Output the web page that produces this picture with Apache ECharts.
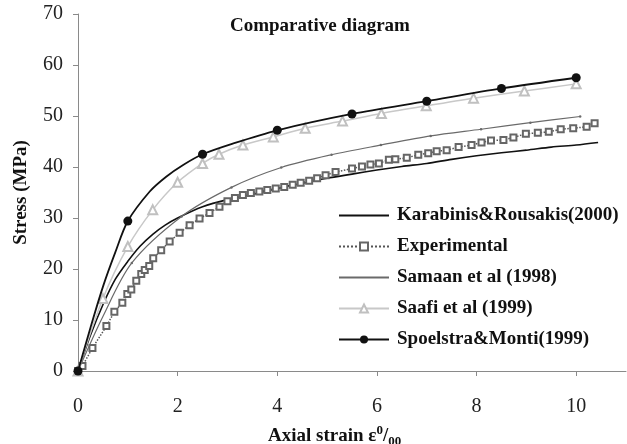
<!DOCTYPE html>
<html>
<head>
<meta charset="utf-8">
<script src="https://cdn.jsdelivr.net/npm/echarts@6/dist/echarts.min.js"></script>
<style>
  html, body { margin: 0; padding: 0; background: #fff; }
  #chart { width: 627px; height: 444px; }
</style>
</head>
<body>
<div id="chart"></div>
<script>
// 轴刻度
var xTicks = [0, 2, 4, 6, 8, 10]
var yTicks = [0, 10, 20, 30, 40, 50, 60, 70]

// Karabinis & Rousakis (2000) - plain line
var karaX = [0, 0.25, 0.5, 0.75, 1, 1.25, 1.5, 1.75, 2, 2.5, 3, 3.5, 4, 4.5, 5, 5.5, 6, 6.5, 7, 7.5, 8, 8.5, 9, 9.5, 10, 10.44]
var karaY = [0, 7, 13, 18, 21.5, 24.5, 26.8, 28.6, 30, 32.2, 33.6, 34.6, 35.8, 36.8, 37.8, 38.6, 39.4, 40.1, 40.7, 41.5, 42.2, 42.8, 43.3, 43.9, 44.3, 44.8]

// Experimental - dotted line, hollow squares
var expX = [0, 0.09, 0.29, 0.57, 0.73, 0.89, 0.99, 1.07, 1.17, 1.27, 1.34, 1.43, 1.51, 1.67, 1.84, 2.04, 2.24, 2.44, 2.64, 2.84, 3.0, 3.15, 3.31, 3.47, 3.64, 3.8, 3.97, 4.14, 4.31, 4.47, 4.64, 4.8, 4.97, 5.17, 5.5, 5.7, 5.87, 6.04, 6.24, 6.37, 6.6, 6.83, 7.03, 7.2, 7.4, 7.64, 7.9, 8.1, 8.29, 8.54, 8.74, 8.99, 9.23, 9.45, 9.69, 9.94, 10.21, 10.37]
var expY = [0, 1, 4.5, 8.8, 11.6, 13.4, 15.1, 16, 17.7, 19, 19.8, 20.6, 22.1, 23.7, 25.4, 27.1, 28.6, 29.9, 31, 32.2, 33.3, 33.9, 34.5, 34.9, 35.2, 35.5, 35.8, 36.1, 36.5, 36.9, 37.3, 37.8, 38.4, 39, 39.7, 40.1, 40.5, 40.7, 41.4, 41.5, 41.8, 42.4, 42.7, 43.1, 43.3, 43.9, 44.3, 44.8, 45.2, 45.3, 45.8, 46.5, 46.7, 46.9, 47.4, 47.6, 47.9, 48.6]

// Samaan et al (1998) - small dots
var samX = [0, 0.5, 1.08, 2.08, 3.08, 4.08, 5.09, 6.08, 7.08, 8.09, 9.08, 10.08]
var samY = [0, 10.7, 21.2, 30.3, 36.0, 39.9, 42.4, 44.3, 46.1, 47.4, 48.7, 49.9]
var samMarks = [1.08, 2.08, 3.08, 4.08, 5.09, 6.08, 7.08, 8.09, 9.08, 10.08]

// Saafi et al (1999) - hollow triangles
var saafiX = [0, 0.5, 1, 1.5, 2, 2.5, 2.83, 3.31, 3.92, 4.56, 5.31, 6.09, 6.99, 7.94, 8.96, 10]
var saafiY = [0, 14.2, 24.4, 31.6, 37, 40.7, 42.5, 44.3, 45.9, 47.6, 49, 50.5, 52, 53.5, 54.9, 56.3]

// Spoelstra & Monti (1999) - filled circles
var spoelX = [0, 0.25, 0.5, 0.75, 1, 1.44, 1.77, 2.11, 2.5, 3.11, 4, 5.5, 7, 8.5, 10]
var spoelY = [0, 8.5, 16.5, 23.3, 29.4, 35.2, 38.1, 40.4, 42.5, 44.6, 47.2, 50.4, 52.9, 55.4, 57.5]
var spoelMarks = [0, 1, 2.5, 4, 5.5, 7, 8.5, 10]

var names = ['Karabinis&Rousakis(2000)', 'Experimental', 'Samaan et al (1998)', 'Saafi et al (1999)', 'Spoelstra&Monti(1999)']

var serif = '"Liberation Serif", "Times New Roman", serif'

function pairs(xs, ys, marks) {
    return xs.map(function (x, i) {
        var item = { value: [x, ys[i]] }
        if (marks && marks.indexOf(x) < 0) item.symbol = 'none'
        return item
    })
}

var myChart = echarts.init(document.getElementById('chart'), null, { renderer: 'canvas' })
myChart.setOption({
    animation: false,
    backgroundColor: '#fff',
    title: {
        text: 'Comparative diagram',
        left: 230,
        top: 17,
        padding: 0,
        textStyle: { fontFamily: serif, fontWeight: 'bold', fontSize: 19, color: '#111' }
    },
    legend: {
        orient: 'vertical',
        left: 338,
        top: 206,
        padding: 0,
        itemWidth: 50,
        itemHeight: 10,
        itemGap: 12,
        textStyle: { fontFamily: serif, fontWeight: 'bold', fontSize: 19, color: '#111', padding: [0, 0, 0, 3] },
        data: [
            { name: names[0], itemStyle: { opacity: 0 } },
            { name: names[1] },
            { name: names[2], itemStyle: { opacity: 0 } },
            { name: names[3] },
            { name: names[4] }
        ]
    },
    grid: { left: 78, right: 1, top: 14, bottom: 73 },
    xAxis: {
        type: 'value',
        min: 0,
        max: 11,
        interval: 2,
        splitLine: { show: false },
        axisLine: { lineStyle: { color: '#8a8a8a', width: 1 } },
        axisTick: { show: true, length: 5, lineStyle: { color: '#8a8a8a' }, customValues: xTicks },
        axisLabel: { margin: 26, customValues: xTicks, fontFamily: serif, fontSize: 20, color: '#222' }
    },
    yAxis: {
        type: 'value',
        min: 0,
        max: 70,
        interval: 10,
        name: 'Stress (MPa)',
        nameLocation: 'middle',
        nameGap: 47,
        nameTextStyle: { fontFamily: serif, fontWeight: 'bold', fontSize: 19, color: '#111' },
        splitLine: { show: false },
        axisLine: { show: true, lineStyle: { color: '#8a8a8a', width: 1 } },
        axisTick: { show: true, length: 5, lineStyle: { color: '#8a8a8a' }, customValues: yTicks },
        axisLabel: { margin: 15, customValues: yTicks, fontFamily: serif, fontSize: 20, color: '#222' }
    },
    graphic: [{
        type: 'text',
        left: 268,
        top: 424,
        style: {
            text: 'Axial strain ε{sup|0}/{sub|00}',
            fontFamily: serif,
            fontWeight: 'bold',
            fontSize: 19,
            fill: '#111',
            rich: {
                sup: { fontFamily: serif, fontWeight: 'bold', fontSize: 13, fill: '#111', padding: [0, 0, 12, 0] },
                sub: { fontFamily: serif, fontWeight: 'bold', fontSize: 13, fill: '#111', padding: [10, 0, 0, 0] }
            }
        }
    }],
    series: [
        {
            name: names[0],
            type: 'line',
            smooth: 0.3,
            symbol: 'none',
            lineStyle: { color: '#111', width: 1.6 },
            itemStyle: { color: '#111' },
            data: pairs(karaX, karaY),
            z: 2
        },
        {
            name: names[1],
            type: 'line',
            symbol: 'emptyRect',
            symbolSize: 6,
            lineStyle: { color: '#555', width: 1.5, type: 'dotted' },
            itemStyle: { color: '#666', borderWidth: 1.3 },
            data: pairs(expX, expY),
            z: 3
        },
        {
            name: names[2],
            type: 'line',
            smooth: 0.3,
            symbol: 'circle',
            symbolSize: 2.5,
            lineStyle: { color: '#6a6a6a', width: 1.2 },
            itemStyle: { color: '#6a6a6a' },
            data: pairs(samX, samY, samMarks),
            z: 4
        },
        {
            name: names[3],
            type: 'line',
            smooth: 0.3,
            symbol: 'emptyTriangle',
            symbolSize: 9,
            lineStyle: { color: '#c8c8c8', width: 1.5 },
            itemStyle: { color: '#c0c0c0', borderWidth: 1.2 },
            data: pairs(saafiX, saafiY),
            z: 5
        },
        {
            name: names[4],
            type: 'line',
            smooth: 0.3,
            symbol: 'circle',
            symbolSize: 9,
            lineStyle: { color: '#111', width: 1.8 },
            itemStyle: { color: '#111' },
            data: pairs(spoelX, spoelY, spoelMarks),
            z: 6
        }
    ]
})
window.addEventListener('resize', myChart.resize)
</script>
</body>
</html>
